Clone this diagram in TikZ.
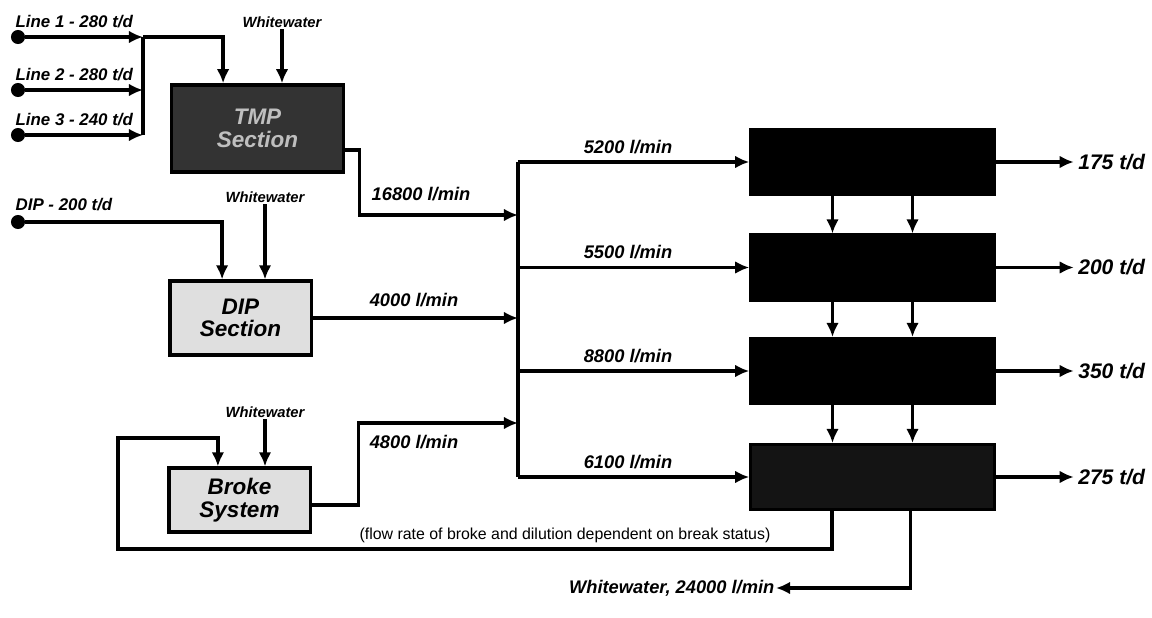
\documentclass[tikz,border=0pt]{standalone}
\usepackage{fontspec}
\setmainfont{Liberation Sans}
\usetikzlibrary{arrows.meta, positioning, calc}

\tikzset{
  pipe/.style={line width=2.3pt},
  flow/.style={pipe, -{Latex[length=10pt,width=9pt]}},
  unit/.style={draw, line width=2.3pt, inner sep=0pt, align=center,
               font=\fontsize{16}{16}\selectfont\bfseries\itshape},
  pmbox/.style={unit, fill=black, minimum width=6.08cm, minimum height=1.62cm},
  src/.style={circle, fill, inner sep=0pt, minimum size=10pt},
  lbl/.style={font=\fontsize{12}{14}\selectfont\bfseries\itshape, inner sep=1pt},
  rate/.style={font=\fontsize{13}{15}\selectfont\bfseries\itshape, inner sep=1pt},
  prod/.style={font=\fontsize{15}{17}\selectfont\bfseries\itshape, inner sep=3pt, anchor=west},
  wwlbl/.style={font=\fontsize{10.5}{12}\selectfont\bfseries\itshape, inner sep=1pt},
}

\begin{document}
\begin{tikzpicture}[x=0.025cm, y=-0.025cm]
  \useasboundingbox (0,0) rectangle (1152,618);

  % ---------- TMP lines ----------
  \foreach \i/\y/\t in {1/37/280, 2/90/280, 3/135/240} {
    \node[src] (l\i) at (18,\y) {};
    \node[lbl, anchor=west] (l\i lab) at (14,\y-15) {Line \i{} - \t{} t/d};
    \coordinate (j\i) at (143,\y);
    \draw[flow] (l\i) -- (j\i);
  }
  \node[unit, fill=black!80, text=gray!50, minimum width=4.28cm, minimum height=2.18cm]
    (tmp) at (257.5,128.5) {TMP\\Section};
  \draw[pipe] (j1) -- (j3);
  \draw[flow] (j1) -| ([xshift=-0.86cm]tmp.north);
  \node[wwlbl] (ww1) at (282,22) {Whitewater};
  \draw[flow] (ww1.south) -- (ww1.south |- tmp.north);

  % ---------- DIP ----------
  \node[src] (dipsrc) at (18,222) {};
  \node[lbl, anchor=west] (diplab) at (14,205) {DIP - 200 t/d};
  \node[unit, fill=gray!25, minimum width=3.53cm, minimum height=1.85cm]
    (dip) at (240.5,318) {DIP\\Section};
  \draw[flow] (dipsrc) -| ([xshift=-0.46cm]dip.north);
  \node[wwlbl] (ww2) at (265,197) {Whitewater};
  \draw[flow] (ww2.south) -- (ww2.south |- dip.north);

  % ---------- broke ----------
  \node[unit, fill=gray!25, minimum width=3.53cm, minimum height=1.6cm]
    (broke) at (239.5,500) {Broke\\System};
  \node[wwlbl] (ww3) at (265,412) {Whitewater};
  \draw[flow] (ww3.south) -- (ww3.south |- broke.north);

  % ---------- header and paper machines ----------
  \coordinate (m1) at (518,215);
  \coordinate (m2) at (518,318);
  \coordinate (m3) at (518,423);
  \draw[flow] ([yshift=-0.54cm]tmp.east) -- ++(15,0) |- (m1);
  \draw[flow] (dip.east) -- (m2);
  \draw[flow] ([yshift=-0.125cm]broke.east) -- ++(47,0) |- (m3);
  \node[rate] (r16) at (421,194) {16800 l/min};
  \node[rate] (r4a) at (414,300) {4000 l/min};
  \node[rate] (r4b) at (414,442) {4800 l/min};

  \foreach \k/\y/\q/\t in {1/162/5200/175, 2/267.5/5500/200, 3/371/8800/350, 4/477/6100/275} {
    \node[pmbox] (pm\k) at (872.5,\y) {};
    \coordinate (b\k) at (518,\y);
    \draw[flow] (b\k) -- (pm\k);
    \node[rate] (q\k) at (628,\y-15) {\q{} l/min};
    \node[prod, right=1.95cm of pm\k] (o\k) {\t{} t/d};
    \draw[flow] (pm\k) -- (o\k);
  }
  \node[pmbox, fill=black!92] at (pm4) {};
  \draw[pipe] (b1) -- (b4);
  \foreach \a/\b in {pm1/pm2, pm2/pm3, pm3/pm4} {
    \draw[flow] ([xshift=-1cm]\a.south) -- ([xshift=-1cm]\b.north);
    \draw[flow] ([xshift=1cm]\a.south) -- ([xshift=1cm]\b.north);
  }

  % ---------- broke return and whitewater ----------
  \coordinate (lp1) at (118,549);
  \coordinate (lp2) at (118,438);
  \draw[flow] ([xshift=-1.01cm]pm4.south) |- (lp1) -- (lp2) -| ([xshift=-0.54cm]broke.north);
  \node[font=\fontsize{11.3}{13}\selectfont] (note) at (565,535)
    {(flow rate of broke and dilution dependent on break status)};
  \node[rate, anchor=east] (wwout) at (776,588) {Whitewater, 24000 l/min};
  \draw[flow] ([xshift=0.95cm]pm4.south) |- (wwout);

\end{tikzpicture}
\end{document}
